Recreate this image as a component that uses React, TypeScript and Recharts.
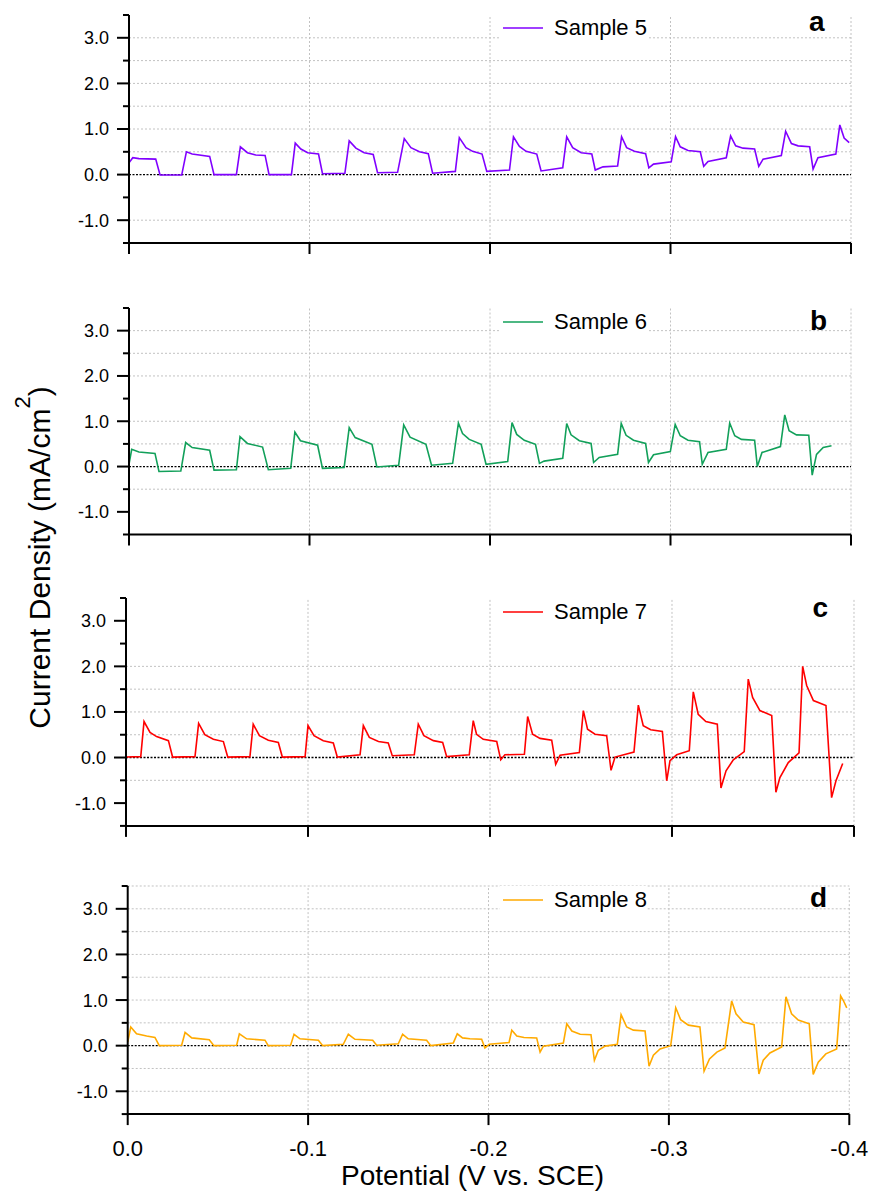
import React from 'react';
import { LineChart, Line, XAxis, YAxis, ReferenceLine, Legend } from 'recharts';

const FONT = '"Liberation Sans", Arial, Helvetica, sans-serif';

// ---- axes / labels ----
const xTicks = [0, -0.1, -0.2, -0.3, -0.4];
const xTickLabels = ['0.0', '-0.1', '-0.2', '-0.3', '-0.4'];
const yTicks = [-1.5, -1, -0.5, 0, 0.5, 1, 1.5, 2, 2.5, 3, 3.5];
const yLabelValues = [-1, 0, 1, 2, 3];
const yLabelTexts = ['-1.0', '0.0', '1.0', '2.0', '3.0'];
const sampleNames = ['Sample 5', 'Sample 6', 'Sample 7', 'Sample 8'];
const panelLetters = ['a', 'b', 'c', 'd'];
const sampleColors = ['#8000ff', '#12a05a', '#ff0000', '#ffaa00'];

// horizontal dotted grid values actually drawn in each panel
const gridA = [3, 2.5, 2, 1.5, 1, 0.5, -1];
const gridB = [3, 2.5, 2, 1, 0.5, -0.5];
const gridC = [2, 1.5, 1, 0.5, -0.5];
const gridD = [3.5, 3, 2.5, 2, 1.5, 1, 0.5, -0.5, -1];
const gridX = [-0.1, -0.2, -0.3, -0.4];

// ---- Sample 5 ----
const s5Potential = [
  0, -0.0021, -0.0055, -0.0148, -0.0172, -0.0292,
  -0.0318, -0.035, -0.0447, -0.0471, -0.0595,
  -0.0617, -0.0656, -0.0702, -0.0754, -0.0776, -0.09,
  -0.0921, -0.0952, -0.099, -0.105, -0.1072, -0.1196,
  -0.122, -0.1257, -0.1303, -0.1353, -0.1377, -0.1488,
  -0.1525, -0.1562, -0.1609, -0.1658, -0.1682, -0.1808,
  -0.183, -0.1867, -0.1904, -0.1956, -0.1982, -0.2108,
  -0.213, -0.2163, -0.22, -0.2259, -0.2283, -0.2403,
  -0.2425, -0.2458, -0.2505, -0.2564, -0.2583, -0.2626, -0.2707,
  -0.2729, -0.2757, -0.28, -0.2862, -0.288, -0.2906, -0.3004,
  -0.3028, -0.3054, -0.3097, -0.3165, -0.3184, -0.3208, -0.3309,
  -0.3333, -0.3361, -0.3402, -0.3466, -0.3489, -0.3513, -0.3614,
  -0.3638, -0.367, -0.3707, -0.3771, -0.379, -0.3817, -0.3916,
  -0.3938, -0.3962, -0.399,
];
const s5Current = [
  0.26, 0.37, 0.35, 0.34, -0.01, -0.01,
  0.5, 0.45, 0.4, 0.0, 0.0,
  0.61, 0.48, 0.43, 0.42, 0.0, 0.0,
  0.69, 0.56, 0.48, 0.45, 0.02, 0.03,
  0.74, 0.58, 0.48, 0.44, 0.04, 0.05,
  0.79, 0.59, 0.5, 0.46, 0.03, 0.07,
  0.81, 0.59, 0.51, 0.45, 0.07, 0.1,
  0.83, 0.62, 0.51, 0.45, 0.08, 0.15,
  0.83, 0.59, 0.48, 0.45, 0.1, 0.17, 0.19,
  0.83, 0.59, 0.51, 0.46, 0.15, 0.23, 0.28,
  0.83, 0.61, 0.53, 0.5, 0.18, 0.29, 0.37,
  0.85, 0.63, 0.58, 0.56, 0.18, 0.34, 0.42,
  0.95, 0.68, 0.63, 0.61, 0.12, 0.37, 0.45,
  1.09, 0.8, 0.7,
];

// ---- Sample 6 ----
const s6Potential = [
  0, -0.0015, -0.0055, -0.0144, -0.0166, -0.0287,
  -0.0314, -0.035, -0.0447, -0.0471, -0.0595,
  -0.0615, -0.0656, -0.074, -0.0772, -0.0896,
  -0.0919, -0.095, -0.1045, -0.1072, -0.1192,
  -0.122, -0.1253, -0.1346, -0.1373, -0.1494,
  -0.1522, -0.1557, -0.1645, -0.1676, -0.1793,
  -0.1825, -0.1848, -0.1885, -0.1951, -0.1978, -0.2098,
  -0.2122, -0.2148, -0.219, -0.2252, -0.2274, -0.23, -0.2403,
  -0.2425, -0.2449, -0.2495, -0.256, -0.2574, -0.2605, -0.2707,
  -0.2727, -0.2754, -0.2795, -0.2862, -0.2878, -0.2906, -0.2999,
  -0.3026, -0.3054, -0.3097, -0.3161, -0.3176, -0.3208, -0.3309,
  -0.3328, -0.3356, -0.3393, -0.3466, -0.3481, -0.3507, -0.3609,
  -0.3633, -0.3657, -0.3698, -0.3766, -0.3785, -0.3809, -0.3846, -0.3892,
];
const s6Current = [
  0.05, 0.38, 0.32, 0.29, -0.11, -0.1,
  0.53, 0.42, 0.36, -0.08, -0.07,
  0.66, 0.51, 0.43, -0.07, -0.04,
  0.76, 0.57, 0.47, -0.04, -0.02,
  0.86, 0.64, 0.49, -0.01, 0.03,
  0.92, 0.65, 0.49, 0.03, 0.07,
  0.96, 0.73, 0.6, 0.49, 0.05, 0.11,
  0.97, 0.71, 0.58, 0.49, 0.07, 0.12, 0.18,
  0.95, 0.7, 0.57, 0.51, 0.09, 0.2, 0.27,
  0.95, 0.69, 0.58, 0.51, 0.09, 0.26, 0.33,
  0.93, 0.68, 0.58, 0.55, 0.05, 0.31, 0.38,
  0.96, 0.68, 0.6, 0.58, 0.0, 0.31, 0.44,
  1.14, 0.79, 0.7, 0.69, -0.19, 0.27, 0.42, 0.46,
];

// ---- Sample 7 ----
const s7Potential = [
  0, -0.0081, -0.0099, -0.0132, -0.0168, -0.0233, -0.0256, -0.0379,
  -0.0399, -0.0433, -0.048, -0.0535, -0.0559, -0.0681,
  -0.0699, -0.0733, -0.0782, -0.0837, -0.0859, -0.0984,
  -0.1, -0.1033, -0.1084, -0.1139, -0.1161, -0.1286,
  -0.1304, -0.1337, -0.1387, -0.1441, -0.1463, -0.1584,
  -0.1606, -0.1637, -0.1689, -0.174, -0.1762, -0.1886,
  -0.1908, -0.1926, -0.1963, -0.2037, -0.2059, -0.2082, -0.2189,
  -0.2207, -0.2234, -0.2275, -0.2339, -0.2361, -0.2385, -0.2491,
  -0.2513, -0.2536, -0.2577, -0.2641, -0.2665, -0.2687, -0.2791,
  -0.2815, -0.2842, -0.2883, -0.2947, -0.2971, -0.2989, -0.3026, -0.3095,
  -0.3117, -0.3144, -0.3186, -0.3249, -0.3269, -0.3297, -0.3337, -0.3397,
  -0.3419, -0.3443, -0.3483, -0.3548, -0.3571, -0.3593, -0.3639, -0.3698,
  -0.3718, -0.374, -0.3777, -0.3846, -0.3877, -0.3901, -0.3938,
];
const s7Current = [
  0.01, 0.02, 0.79, 0.55, 0.46, 0.37, 0.01, 0.02,
  0.75, 0.5, 0.4, 0.35, 0.01, 0.02,
  0.73, 0.48, 0.38, 0.33, 0.01, 0.02,
  0.7, 0.48, 0.37, 0.32, 0.01, 0.06,
  0.7, 0.44, 0.35, 0.32, 0.04, 0.06,
  0.73, 0.48, 0.37, 0.33, 0.02, 0.06,
  0.81, 0.51, 0.4, 0.35, -0.05, 0.06, 0.07,
  0.9, 0.51, 0.42, 0.38, -0.15, 0.05, 0.11,
  1.03, 0.62, 0.51, 0.48, -0.28, 0.01, 0.12,
  1.15, 0.7, 0.61, 0.57, -0.51, -0.07, 0.06, 0.15,
  1.44, 0.95, 0.79, 0.73, -0.67, -0.29, -0.05, 0.13,
  1.72, 1.32, 1.03, 0.92, -0.76, -0.44, -0.11, 0.1,
  2.0, 1.58, 1.25, 1.14, -0.88, -0.51, -0.13,
];

// ---- Sample 8 ----
const s8Potential = [
  0, -0.0017, -0.0049, -0.0105, -0.0151, -0.0175, -0.0299,
  -0.0318, -0.0355, -0.0452, -0.0478, -0.0604,
  -0.0619, -0.0659, -0.0761, -0.0779, -0.0903,
  -0.0922, -0.0955, -0.1057, -0.1081, -0.1195,
  -0.1223, -0.126, -0.1358, -0.138, -0.15,
  -0.1524, -0.1555, -0.1657, -0.168, -0.1805,
  -0.1827, -0.1856, -0.1897, -0.1962, -0.198, -0.2004, -0.2114,
  -0.2129, -0.2157, -0.2197, -0.2267, -0.2286, -0.2304, -0.2415,
  -0.2434, -0.2462, -0.2508, -0.2568, -0.2587, -0.2609, -0.2646, -0.2714,
  -0.2735, -0.2766, -0.2803, -0.2868, -0.289, -0.2914, -0.2951, -0.301,
  -0.3038, -0.3065, -0.3108, -0.3172, -0.3195, -0.3225, -0.3266, -0.3311,
  -0.3348, -0.3372, -0.3412, -0.3472, -0.3499, -0.3523, -0.356, -0.3625,
  -0.3649, -0.368, -0.3717, -0.3778, -0.38, -0.3828, -0.387, -0.393,
  -0.3952, -0.3967, -0.3986,
];
const s8Current = [
  0.08, 0.41, 0.26, 0.21, 0.18, 0.0, 0.01,
  0.29, 0.17, 0.13, 0.0, 0.01,
  0.26, 0.15, 0.12, 0.0, 0.01,
  0.25, 0.15, 0.12, 0.0, 0.03,
  0.25, 0.14, 0.12, 0.01, 0.04,
  0.25, 0.15, 0.12, 0.0, 0.06,
  0.26, 0.17, 0.15, 0.14, -0.05, 0.03, 0.07,
  0.34, 0.21, 0.18, 0.17, -0.14, -0.01, 0.06,
  0.48, 0.32, 0.25, 0.24, -0.32, -0.1, -0.01, 0.03,
  0.68, 0.41, 0.34, 0.32, -0.45, -0.21, -0.07, 0.0,
  0.83, 0.57, 0.45, 0.41, -0.56, -0.29, -0.14, -0.05,
  0.98, 0.7, 0.52, 0.46, -0.62, -0.32, -0.16, -0.03,
  1.07, 0.7, 0.56, 0.48, -0.63, -0.36, -0.18, -0.07,
  1.09, 0.99, 0.83,
];

// ---- layout of the four stacked panels (pixels) ----
const panelLayouts = [
  { plotTop: 14.5, plotBottom: 242.5, left: 129, right: 851, legendY: 28, letterX: 809, letterY: 31 },
  { plotTop: 307.5, plotBottom: 534, left: 129, right: 851, legendY: 321.7, letterX: 810, letterY: 329.5 },
  { plotTop: 597.6, plotBottom: 825.5, left: 126, right: 854, legendY: 612.3, letterX: 812.5, letterY: 617 },
  { plotTop: 886.4, plotBottom: 1114.5, left: 127.7, right: 849.3, legendY: 900, letterX: 810, letterY: 907 },
];

const Y_TICK_SIZE = 12;
const Y_TICK_MARGIN = 8;

const YTick = (props: any) => {
  const { x, y, payload } = props;
  const v = Number(payload.value);
  const axisX = x + Y_TICK_SIZE + Y_TICK_MARGIN;
  const idx = yLabelValues.findIndex((t) => Math.abs(t - v) < 1e-6);
  const major = Math.abs(v - Math.round(v)) < 1e-6;
  return (
    <g>
      <line x1={axisX - (major ? 12 : 6)} x2={axisX} y1={y} y2={y} stroke="#000" strokeWidth={2} />
      {idx >= 0 && (
        <text x={x} y={y} dy="0.36em" textAnchor="end" fontSize={18} fill="#000" fontFamily={FONT}>
          {yLabelTexts[idx]}
        </text>
      )}
    </g>
  );
};

const makeXTick = (show: boolean) => (props: any) => {
  const { x, y, payload } = props;
  if (!show) return <g />;
  const v = Number(payload.value);
  const idx = xTicks.findIndex((t) => Math.abs(t - v) < 1e-9);
  return (
    <text x={x} y={y} dy="0.71em" textAnchor="middle" fontSize={22} fill="#000" fontFamily={FONT}>
      {idx >= 0 ? xTickLabels[idx] : ''}
    </text>
  );
};

const LegendBox = (props: any) => {
  const item = props.payload && props.payload[0];
  const color = item ? item.color : '#000';
  const label = item ? item.value : '';
  return (
    <div style={{ display: 'flex', alignItems: 'center', height: 28, background: '#fff', paddingLeft: 3 }}>
      <svg width={40} height={4} style={{ display: 'block' }}>
        <line x1={0} x2={40} y1={2} y2={2} stroke={color} strokeWidth={1.6} />
      </svg>
      <span style={{ marginLeft: 11, fontSize: 22, fontFamily: FONT, color: '#000', lineHeight: '28px', whiteSpace: 'nowrap' }}>
        {label}
      </span>
    </div>
  );
};

type PanelProps = {
  index: number;
  potential: number[];
  current: number[];
  grid: number[];
  showXLabels: boolean;
};

function Panel({ index, potential, current, grid, showXLabels }: PanelProps) {
  const cfg = panelLayouts[index];
  const data = potential.map((v, k) => ({ v, c: current[k] }));
  const topPad = 10;
  const chartTop = cfg.plotTop - topPad;
  const xAxisH = showXLabels ? 60 : 30;
  const height = cfg.plotBottom - cfg.plotTop + topPad + xAxisH;
  const yAxisW = 60;
  const color = sampleColors[index];
  return (
    <div style={{ position: 'absolute', left: 0, top: chartTop }}>
      <LineChart
        width={874}
        height={height}
        data={data}
        margin={{ top: topPad, right: 874 - cfg.right, bottom: 0, left: cfg.left - yAxisW }}
      >
        <XAxis
          type="number"
          dataKey="v"
          domain={[-0.4, 0]}
          reversed
          allowDataOverflow
          ticks={xTicks}
          interval={0}
          height={xAxisH}
          tickSize={11}
          tickMargin={15}
          axisLine={{ stroke: '#000', strokeWidth: 2 }}
          tickLine={{ stroke: '#000', strokeWidth: 2 }}
          tick={makeXTick(showXLabels)}
        />
        <YAxis
          type="number"
          domain={[-1.5, 3.5]}
          allowDataOverflow
          ticks={yTicks}
          interval={0}
          width={yAxisW}
          tickSize={Y_TICK_SIZE}
          tickMargin={Y_TICK_MARGIN}
          axisLine={{ stroke: '#000', strokeWidth: 2 }}
          tickLine={false}
          tick={YTick}
        />
        {grid.map((g) => (
          <ReferenceLine key={'h' + g} y={g} stroke="#c2c2c2" strokeWidth={1} strokeDasharray="2 2" />
        ))}
        {gridX.map((g) => (
          <ReferenceLine key={'v' + g} x={g} stroke="#c2c2c2" strokeWidth={1} strokeDasharray="2 2" />
        ))}
        <ReferenceLine y={0} stroke="#000" strokeWidth={1.3} strokeDasharray="2 1.5" />
        <Legend
          content={LegendBox}
          layout="horizontal"
          verticalAlign="middle"
          align="center"
          wrapperStyle={{ left: 500, top: cfg.legendY - chartTop - 14, width: 147, height: 28 }}
        />
        <Line
          type="linear"
          dataKey="c"
          name={sampleNames[index]}
          stroke={color}
          strokeWidth={1.6}
          dot={false}
          activeDot={false}
          isAnimationActive={false}
        />
      </LineChart>
    </div>
  );
}

export default function App() {
  return (
    <div
      style={{
        position: 'absolute',
        left: 0,
        top: 0,
        width: 874,
        height: 1196,
        background: '#fff',
        fontFamily: FONT,
        overflow: 'hidden',
      }}
    >
      <Panel index={0} potential={s5Potential} current={s5Current} grid={gridA} showXLabels={false} />
      <Panel index={1} potential={s6Potential} current={s6Current} grid={gridB} showXLabels={false} />
      <Panel index={2} potential={s7Potential} current={s7Current} grid={gridC} showXLabels={false} />
      <Panel index={3} potential={s8Potential} current={s8Current} grid={gridD} showXLabels={true} />
      <svg
        width={874}
        height={1196}
        style={{ position: 'absolute', left: 0, top: 0, pointerEvents: 'none' }}
        fontFamily={FONT}
      >
        {panelLayouts.map((p, i) => (
          <text key={i} x={p.letterX} y={p.letterY} fontSize={28} fontWeight="bold" fill="#000">
            {panelLetters[i]}
          </text>
        ))}
        <text transform="translate(50,557.5) rotate(-90)" textAnchor="middle" fontSize={30} fill="#000">
          Current Density (mA/cm
          <tspan dy={-20} fontSize={22}>2</tspan>
          <tspan dy={20}>)</tspan>
        </text>
        <text x={472.5} y={1184.5} textAnchor="middle" fontSize={28} fill="#000">
          Potential (V vs. SCE)
        </text>
      </svg>
    </div>
  );
}
